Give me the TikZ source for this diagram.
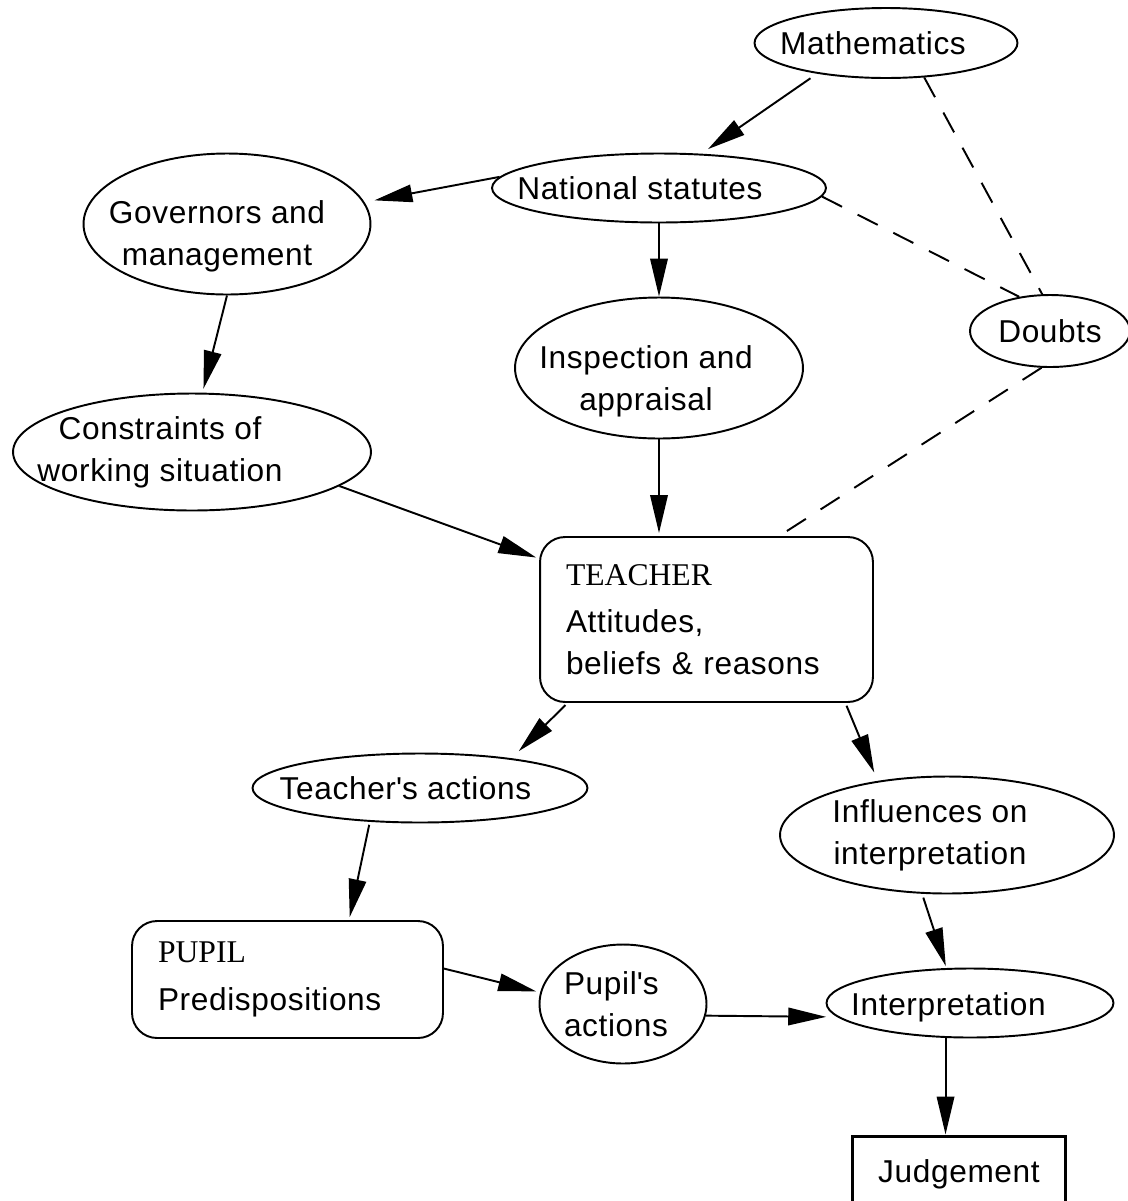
\documentclass[tikz,border=0pt]{standalone}
\usepackage{fontspec}
\setmainfont[LetterSpace=2]{Liberation Sans}
\newfontfamily\rolefont{Liberation Serif}
\usetikzlibrary{shapes.geometric,
                arrows.meta}

\begin{document}
\begin{tikzpicture}[x=0.02cm,y=-0.02cm]

\tikzset{
bubble/.style={
draw=black,
ellipse,
line width=1.1pt,
inner sep=0pt
},
rolebox/.style={
draw=black,
line width=1.1pt,
rounded corners=0.5cm,
align=left,
inner xsep=0.52cm,
inner ysep=0pt
},
flow/.style={
line width=1.1pt,
-{Triangle[length=0.76cm,width=0.35cm]}
},
doubtline/.style={
line width=1.1pt,
dash pattern=on 0.45cm off 0.35cm
},
every node/.style={font=\fontsize{18}{24}\selectfont},
every label/.style={align=center}
}

\useasboundingbox (0,0) rectangle (1128,1201);

%--------------------------------------------------
% OUTSIDE INFLUENCES
%--------------------------------------------------

\node[bubble,minimum width=5.26cm,minimum height=1.40cm,
label={[xshift=-0.26cm]center:Mathematics}] (math) at (886,43) {};

\node[bubble,minimum width=6.68cm,minimum height=1.38cm,
label={[xshift=-0.38cm]center:National statutes}] (nat) at (659,188) {};

\node[bubble,minimum width=5.74cm,minimum height=2.82cm,
label={[xshift=-0.2cm,yshift=-0.24cm]center:Governors and\\management}] (gov) at (227,224) {};

\node[bubble,minimum width=3.2cm,minimum height=1.44cm,
label={center:Doubts}] (doubts) at (1050,331) {};

\node[bubble,minimum width=5.76cm,minimum height=2.82cm,
label={[xshift=-0.26cm,yshift=-0.26cm]center:Inspection and\\appraisal}] (insp) at (659,368) {};

\node[bubble,minimum width=7.16cm,minimum height=2.34cm,
label={[xshift=-0.64cm]center:Constraints of\\working situation}] (cons) at (192,452) {};

%--------------------------------------------------
% TEACHER AND PUPIL
%--------------------------------------------------

\node[rolebox,text width=5.62cm,minimum height=3.3cm] (teacher) at (706.5,619.5)
{{\rolefont TEACHER}\\[3pt]Attitudes,\\beliefs \& reasons};

\node[bubble,minimum width=6.70cm,minimum height=1.38cm,
label={[xshift=-0.29cm]center:Teacher\textquotesingle s actions}] (tact) at (420,788) {};

\node[bubble,minimum width=6.68cm,minimum height=2.34cm,
label={[xshift=-0.34cm]center:Influences on\\interpretation}] (infl) at (947,835) {};

\node[rolebox,text width=5.18cm,minimum height=2.34cm] (pupil) at (287.5,979.5)
{{\rolefont PUPIL}\\[3pt]Predispositions};

\node[bubble,minimum width=3.34cm,minimum height=2.38cm,
label={[align=left,xshift=-0.14cm]center:Pupil\textquotesingle s\\actions}] (pact) at (623,1004) {};

\node[bubble,minimum width=5.74cm,minimum height=1.38cm,
label={[xshift=-0.43cm,yshift=-0.08cm]center:Interpretation}] (interp) at (970,1003) {};

\node[draw=black,line width=1.7pt,minimum width=4.28cm,minimum height=1.52cm,
inner sep=0pt] (judg) at (959,1174) {Judgement};

%--------------------------------------------------
% ARROWS
%--------------------------------------------------

\draw[flow,shorten <=0.16cm,shorten >=0.16cm] (math.204) -- (nat.39);
\draw[flow,shorten >=0.2cm] (nat.176) -- (gov.9);
\draw[flow] (nat) -- (insp);
\draw[flow,shorten >=0.08cm] (gov.south) -- (cons.80);
\draw[flow,shorten >=0.06cm] (insp.south) -- (insp.south |- teacher.north);
\draw[flow,shorten >=0.06cm] (cons.347) -- (teacher.160);
\draw[flow,shorten <=0.06cm,shorten >=0.2cm] (teacher.211) -- (tact.18);
\draw[flow,shorten <=0.06cm,shorten >=0.18cm] (teacher.329) -- (infl.142);
\draw[flow,shorten <=0.06cm,shorten >=0.06cm] (tact.214) -- (pupil.44);
\draw[flow,shorten >=0.08cm] (pupil.4) -- (pact.172);
\draw[flow,shorten >=0.22cm] (pact.352) -- (interp.186);
\draw[flow,shorten <=0.08cm,shorten >=0.04cm] (infl.247) -- (interp.124);
\draw[flow] (interp.235) -- (interp.235 |- judg.north);

%--------------------------------------------------
% DOUBTS
%--------------------------------------------------

\draw[doubtline] (math.318) -- (doubts.102);
\draw[doubtline] (nat.357) -- (doubts.132);
\draw[doubtline,shorten >=0.08cm] (doubts.257) -- (teacher.49);

\end{tikzpicture}
\end{document}
